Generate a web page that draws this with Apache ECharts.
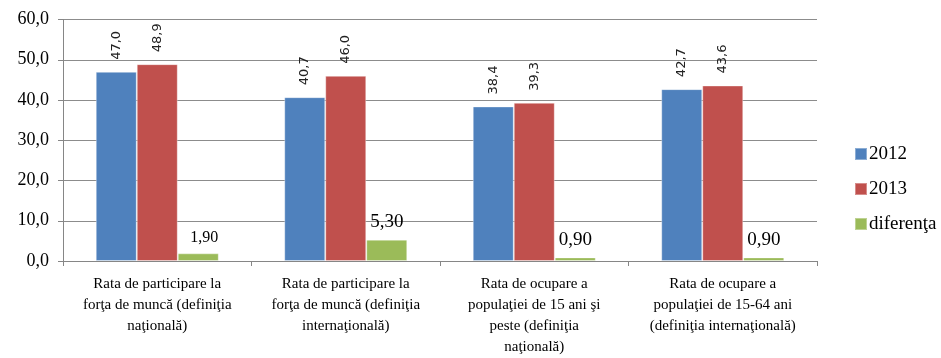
<!DOCTYPE html>
<html>
<head>
<meta charset="utf-8">
<script src="https://cdn.jsdelivr.net/npm/echarts@6/dist/echarts.min.js"></script>
<style>
html,body{margin:0;padding:0;background:#fff;}
#c{width:941px;height:358px;}
</style>
</head>
<body>
<div id="c"></div>
<script>
var categories = [
  "Rata de participare la\nforţa de muncă (definiţia\nnaţională)",
  "Rata de participare la\nforţa de muncă (definiţia\ninternaţională)",
  "Rata de ocupare a\npopulaţiei de 15 ani şi\npeste (definiţia\nnaţională)",
  "Rata de ocupare a\npopulaţiei de 15-64 ani\n(definiţia internaţională)"
];
var seriesNames = ["2012", "2013", "diferenţa"];
var values2012 = [47.0, 40.7, 38.4, 42.7];
var values2013 = [48.9, 46.0, 39.3, 43.6];
var valuesDiff = [1.90, 5.30, 0.90, 0.90];
var diffLabelSizes = [16, 19, 19, 19];
var yTicks = [0, 10, 20, 30, 40, 50, 60];

var fmt1 = function (v) { return Number(v).toFixed(1).replace('.', ','); };
var fmt2 = function (v) { return Number(v).toFixed(2).replace('.', ','); };

var rotLabel = {
  show: true, position: 'top', rotate: 90, align: 'left', verticalAlign: 'middle',
  distance: 12, fontFamily: 'DejaVu Sans', fontSize: 13, color: '#222',
  formatter: function (p) { return fmt1(p.value); }
};

var diffData = valuesDiff.map(function (v, i) {
  return {
    value: v,
    label: { fontSize: diffLabelSizes[i], offset: i === 0 ? [6, 0] : [0, 0] }
  };
});

var chart = echarts.init(document.getElementById('c'), null, { renderer: 'canvas' });
chart.setOption({
  animation: false,
  color: ['#4F81BD', '#C0504D', '#9BBB59'],
  grid: { left: 63, right: 124, top: 19.5, bottom: 96, containLabel: false },
  legend: {
    orient: 'vertical', left: 849, top: 139,
    itemWidth: 12, itemHeight: 12, itemGap: 15, icon: 'rect',
    data: seriesNames,
    textStyle: { fontFamily: 'Liberation Serif', fontSize: 19, lineHeight: 20, color: '#000', padding: [0, 0, 0, -3] }
  },
  xAxis: {
    type: 'category', data: categories,
    axisLine: { lineStyle: { color: '#868686', width: 1 } },
    axisTick: { show: true, length: 5, lineStyle: { color: '#868686' } },
    axisLabel: {
      interval: 0, margin: 13, fontFamily: 'Liberation Serif', fontSize: 15,
      lineHeight: 21, color: '#000'
    }
  },
  yAxis: {
    type: 'value', min: yTicks[0], max: yTicks[yTicks.length - 1], interval: 10,
    axisLine: { show: true, lineStyle: { color: '#868686' } },
    axisTick: { show: true, length: 5, lineStyle: { color: '#868686' } },
    splitLine: { lineStyle: { color: '#8c8c8c', width: 1 } },
    axisLabel: { margin: 14, fontFamily: 'Liberation Serif', fontSize: 18, color: '#000', formatter: fmt1 }
  },
  series: [
    { name: seriesNames[0], type: 'bar', data: values2012, barWidth: 41, barGap: '0%',
      itemStyle: { borderColor: 'rgba(255,255,255,0.35)', borderWidth: 1 }, label: rotLabel },
    { name: seriesNames[1], type: 'bar', data: values2013, barWidth: 41, barGap: '0%',
      itemStyle: { borderColor: 'rgba(255,255,255,0.35)', borderWidth: 1 }, label: rotLabel },
    { name: seriesNames[2], type: 'bar', data: diffData, barWidth: 41, barGap: '0%',
      itemStyle: { borderColor: 'rgba(255,255,255,0.35)', borderWidth: 1 },
      label: { show: true, position: 'top', distance: 8, fontFamily: 'Liberation Serif', color: '#000',
        formatter: function (p) { return fmt2(p.value); } } }
  ]
});
</script>
</body>
</html>
